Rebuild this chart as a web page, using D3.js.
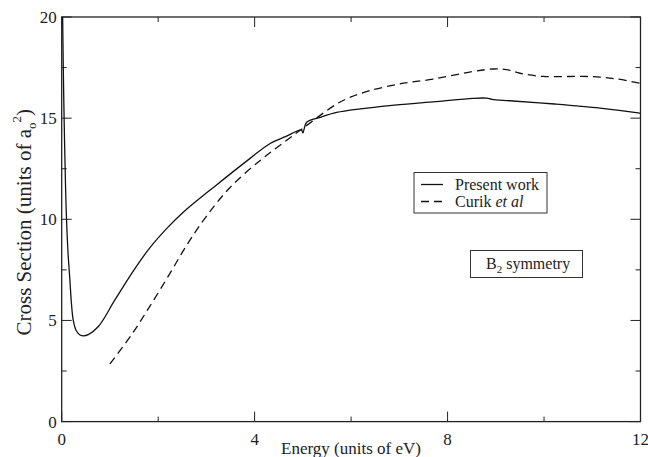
<!DOCTYPE html>
<html><head><meta charset="utf-8">
<script src="https://cdn.jsdelivr.net/npm/d3@7"></script>
<style>body{margin:0;background:#fff;} svg{display:block;} text{font-family:"Liberation Serif","DejaVu Serif",serif;fill:#222;}</style>
</head><body><svg id="c" width="648" height="457"></svg>
<script>
// Data
const presentE = [0.01,0.03,0.05,0.08,0.10,0.13,0.17,0.20,0.24,0.30,0.38,0.45,0.55,0.76,1.1,1.5,1.83,2.2,2.52,3.21,3.9,4.32,4.65,4.97,5.0,5.08,5.36,5.7,6.2,6.8,7.7,8.53,8.81,8.92,9.29,10.22,11.16,11.95,12.0];
const presentV = [22.0,18.0,15.0,11.6,10.0,8.4,7.0,5.9,5.0,4.5,4.28,4.24,4.3,4.7,6.0,7.5,8.6,9.6,10.35,11.7,13.0,13.75,14.1,14.42,14.27,14.8,15.04,15.28,15.46,15.62,15.8,15.98,15.99,15.93,15.86,15.7,15.5,15.26,15.24];
const curikE = [1.0,1.45,1.8,2.2,2.6,3.0,3.5,4.11,4.52,5.0,5.7,6.0,6.39,7.0,7.7,8.53,8.95,9.22,9.5,9.98,10.53,11.02,11.5,12.0];
const curikV = [2.85,4.3,5.6,7.15,8.75,10.15,11.6,12.9,13.65,14.5,15.7,16.05,16.36,16.69,16.93,17.31,17.43,17.4,17.22,17.06,17.06,17.05,16.94,16.72];
const xMajor = [0,4,8,12];
const xMinor = [2,6,10];
const yMajor = [0,5,10,15,20];
const yMinor = [2.5,7.5,12.5,17.5];
const seriesNames = ["Present work","Curik et al"];

const svg = d3.select("#c");
const L=61.7, R=640.5, T=17, B=421.6;
const x = d3.scaleLinear().domain([0,12]).range([L,R]);
const y = d3.scaleLinear().domain([0,20]).range([B,T]);

svg.append("defs").append("clipPath").attr("id","clip")
  .append("rect").attr("x",L).attr("y",T).attr("width",R-L).attr("height",B-T);

const g = svg.append("g");
function ticks(vals,len){
  vals.forEach(v=>{
    g.append("line").attr("x1",x(v)).attr("x2",x(v)).attr("y1",B).attr("y2",B-len).attr("stroke","#222");
    g.append("line").attr("x1",x(v)).attr("x2",x(v)).attr("y1",T).attr("y2",T+len).attr("stroke","#222");
  });
}
function yticks(vals,len){
  vals.forEach(v=>{
    g.append("line").attr("y1",y(v)).attr("y2",y(v)).attr("x1",L).attr("x2",L+len).attr("stroke","#222");
    g.append("line").attr("y1",y(v)).attr("y2",y(v)).attr("x1",R).attr("x2",R-len).attr("stroke","#222");
  });
}
ticks(xMajor,10); ticks(xMinor,5); yticks(yMajor,10); yticks(yMinor,5);

g.append("rect").attr("x",L).attr("y",T).attr("width",R-L).attr("height",B-T)
  .attr("fill","none").attr("stroke","#222").attr("stroke-width",1.3);

xMajor.forEach(v=>{
  g.append("text").attr("x",x(v)).attr("y",B+23).attr("text-anchor","middle").attr("font-size",17).text(v);
});
yMajor.forEach(v=>{
  g.append("text").attr("x",L-5).attr("y",y(v)+6).attr("text-anchor","end").attr("font-size",17).text(v);
});

g.append("text").attr("x",351).attr("y",454).attr("text-anchor","middle").attr("font-size",17).text("Energy (units of eV)");
const yt = g.append("text").attr("transform",`translate(31,${(T+B)/2+3}) rotate(-90)`).attr("text-anchor","middle").attr("font-size",21);
yt.append("tspan").text("Cross Section (units of a");
yt.append("tspan").attr("font-size",13).attr("dy",5).text("o");
yt.append("tspan").attr("font-size",13).attr("dy",-15).text("2");
yt.append("tspan").attr("dy",10).text(")");

const line = d3.line().x(d=>x(d[0])).y(d=>y(d[1])).curve(d3.curveCatmullRom.alpha(0.5));
const plot = svg.append("g").attr("clip-path","url(#clip)");
plot.append("path").datum(presentE.map((e,i)=>[e,presentV[i]])).attr("d",line)
  .attr("fill","none").attr("stroke","#111").attr("stroke-width",1.3);
plot.append("path").datum(curikE.map((e,i)=>[e,curikV[i]])).attr("d",line)
  .attr("fill","none").attr("stroke","#111").attr("stroke-width",1.3).attr("stroke-dasharray","8,5");

const lg = svg.append("g");
lg.append("rect").attr("x",414).attr("y",172.5).attr("width",133).attr("height",40.5).attr("fill","#fff").attr("stroke","#333").attr("stroke-width",1);
lg.append("line").attr("x1",421).attr("x2",443).attr("y1",184.5).attr("y2",184.5).attr("stroke","#111").attr("stroke-width",1.3);
lg.append("line").attr("x1",421).attr("x2",443).attr("y1",201.5).attr("y2",201.5).attr("stroke","#111").attr("stroke-width",1.3).attr("stroke-dasharray","8,5");
lg.append("text").attr("x",455).attr("y",190).attr("font-size",16).text(seriesNames[0]);
const t2 = lg.append("text").attr("x",455).attr("y",207).attr("font-size",16);
t2.append("tspan").text("Curik ");
t2.append("tspan").attr("font-style","italic").text("et al");

svg.append("rect").attr("x",470.5).attr("y",250.5).attr("width",112).attr("height",27).attr("fill","#fff").attr("stroke","#333").attr("stroke-width",1);
const t3 = svg.append("text").attr("x",486).attr("y",269).attr("font-size",16);
t3.append("tspan").text("B");
t3.append("tspan").attr("font-size",11).attr("dy",4).text("2");
t3.append("tspan").attr("dy",-4).text(" symmetry");
</script></body></html>
